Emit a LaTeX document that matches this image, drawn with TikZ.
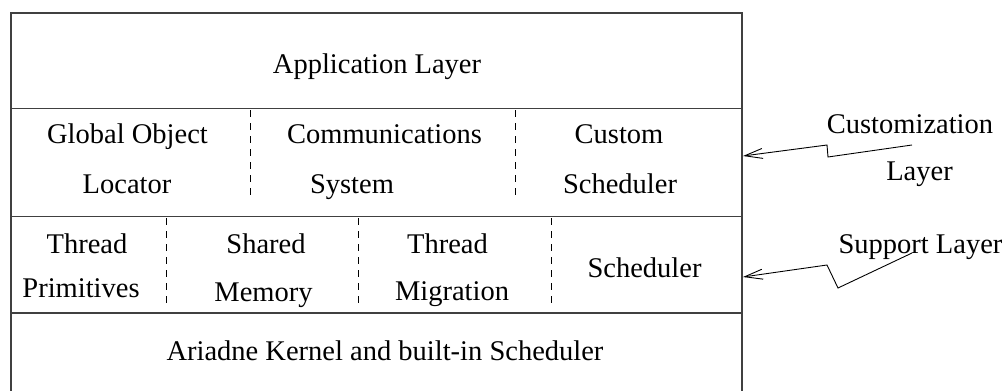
\documentclass[tikz,border=0pt]{standalone}
\usepackage{fontspec}
\setmainfont{Liberation Serif}
\usetikzlibrary{arrows.meta}

\begin{document}
\begin{tikzpicture}[x=1pt,y=-1pt,
  lbl/.style={font=\fontsize{28.5}{30}\selectfont, inner sep=0pt, anchor=base},
  frame/.style={line width=1.3pt, draw=black!75},
  divider/.style={line width=0.9pt, dash pattern=on 7pt off 6pt},
  pointer/.style={line width=0.9pt, -{Straight Barb[length=18pt,width=10pt]}}]
\useasboundingbox (0,0) rectangle (1007,391);

% layer stack outline and separators
\draw[frame] (11,391) -- (11,13) -- (742,13) -- (742,391);
\draw[frame] (11,108.5) -- (742,108.5);
\draw[frame] (11,216.5) -- (742,216.5);
\draw[frame] (11,313) -- (742,313);

% dashed dividers between components
\draw[divider] (250,110) -- (250,197);
\draw[divider] (515,110) -- (515,197);
\draw[divider] (166,218) -- (166,305);
\draw[divider] (358,218) -- (358,305);
\draw[divider] (551,218) -- (551,305);

% application layer
\node[lbl] (app) at (377,73) {Application Layer};

% customization layer
\node[lbl] (gol1) at (127.5,143) {Global Object};
\node[lbl] (gol2) at (127,193) {Locator};
\node[lbl] (com1) at (384.5,143) {Communications};
\node[lbl] (com2) at (352,193) {System};
\node[lbl] (cus1) at (619,143) {Custom};
\node[lbl] (cus2) at (620,193) {Scheduler};

% support layer
\node[lbl] (tp1) at (87,253) {Thread};
\node[lbl] (tp2) at (81,297) {Primitives};
\node[lbl] (sm1) at (266,253) {Shared};
\node[lbl] (sm2) at (263.5,301) {Memory};
\node[lbl] (tm1) at (447.5,253) {Thread};
\node[lbl] (tm2) at (452,300) {Migration};
\node[lbl] (sch) at (644.5,277) {Scheduler};

% kernel
\node[lbl] (ker) at (385,360) {Ariadne Kernel and built-in Scheduler};

% side labels
\node[lbl] (cl1) at (910,133) {Customization};
\node[lbl] (cl2) at (919.5,180) {Layer};
\node[lbl] (sl) at (920.5,253) {Support Layer};

% lightning pointers to the stack
\coordinate (cstart) at (912,145);
\coordinate (ctip) at (743,156);
\coordinate (sstart) at (912,253);
\coordinate (stip) at (743,277);
\draw[pointer] (cstart) -- (828,157) -- (827,145) -- (ctip);
\draw[pointer] (sstart) -- (838,288) -- (827,265) -- (stip);
\end{tikzpicture}
\end{document}
